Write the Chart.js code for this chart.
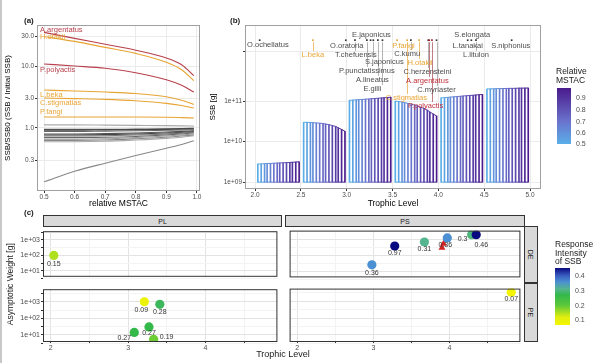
<!DOCTYPE html>
<html>
<head>
<meta charset="utf-8">
<script src="https://cdn.jsdelivr.net/npm/chart.js@4.4.1/dist/chart.umd.min.js"></script>
<style>
body{margin:0;background:#fff;font-family:"Liberation Sans",Arial,sans-serif;}
#wrap{position:relative;width:599px;height:363px;overflow:hidden;background:#fff}
canvas{position:absolute}
.t{position:absolute;color:#1a1a1a;white-space:nowrap;line-height:1}
.strip{position:absolute;background:#d9d9d9;border:1px solid #333;box-sizing:border-box;font-size:7px;color:#1a1a1a;display:flex;align-items:center;justify-content:center}
</style>
</head>
<body>
<div id="wrap">
  <div style="position:absolute;left:0;top:0;width:2px;height:363px;background:#c8c8c8"></div>
  <canvas id="ca" width="205" height="212" style="left:0;top:0"></canvas>
  <canvas id="cb" width="345" height="212" style="left:200px;top:0"></canvas>
  <canvas id="c1" width="282" height="56" style="left:0;top:226px"></canvas>
  <canvas id="c2" width="282" height="79" style="left:0;top:284px"></canvas>
  <canvas id="c3" width="240" height="56" style="left:285px;top:226px"></canvas>
  <canvas id="c4" width="240" height="79" style="left:285px;top:284px"></canvas>

  <div class="t" style="left:24px;top:17px;font-size:8px;font-weight:bold">(a)</div>
  <div class="t" style="left:230px;top:17px;font-size:8px;font-weight:bold">(b)</div>
  <div class="t" style="left:24px;top:209px;font-size:8px;font-weight:bold">(c)</div>

  <div class="strip" style="left:43px;top:215px;width:239px;height:12px">PL</div>
  <div class="strip" style="left:285px;top:215px;width:240px;height:12px">PS</div>
  <div class="strip" style="left:524px;top:226px;width:14px;height:57px"><span style="transform:rotate(90deg)">DE</span></div>
  <div class="strip" style="left:524px;top:283px;width:14px;height:59px"><span style="transform:rotate(90deg)">PE</span></div>

  <div class="t" style="left:-40px;top:280px;width:100px;text-align:center;font-size:8.5px;transform:rotate(-90deg)">Asymptotic Weight [g]</div>
  <div class="t" style="left:233px;top:350px;width:100px;text-align:center;font-size:9px">Trophic Level</div>

  <div class="t" style="left:556px;top:67px;font-size:8.5px;line-height:9px">Relative<br>MSTAC</div>
  <div id="barB" style="position:absolute;left:557px;top:88px;width:14px;height:56px"></div>
  <div class="t" style="left:576px;top:94px;font-size:7px;color:#4d4d4d">0.9</div>
  <div class="t" style="left:576px;top:106px;font-size:7px;color:#4d4d4d">0.8</div>
  <div class="t" style="left:576px;top:118px;font-size:7px;color:#4d4d4d">0.7</div>
  <div class="t" style="left:576px;top:129px;font-size:7px;color:#4d4d4d">0.6</div>
  <div class="t" style="left:576px;top:140px;font-size:7px;color:#4d4d4d">0.5</div>

  <div class="t" style="left:555px;top:240px;font-size:8.5px;line-height:8.5px">Response<br>Intensity<br>of SSB</div>
  <div id="barC" style="position:absolute;left:555px;top:268px;width:15px;height:57px"></div>
  <div class="t" style="left:575px;top:272px;font-size:7px;color:#4d4d4d">0.4</div>
  <div class="t" style="left:575px;top:287px;font-size:7px;color:#4d4d4d">0.3</div>
  <div class="t" style="left:575px;top:302px;font-size:7px;color:#4d4d4d">0.2</div>
  <div class="t" style="left:575px;top:316px;font-size:7px;color:#4d4d4d">0.1</div>
</div>
<script>
// ---------- panel (a) data ----------
const mstacA = [0.5, 0.6, 0.7, 0.8, 0.9, 0.95, 0.99];
const aArgentatus = [35, 28, 22.5, 18, 13.5, 10.5, 7.0];
const hOtakii = [30, 25, 20, 16, 11.5, 8.7, 5.8];
const pPolyactis = [10.8, 10.0, 9.2, 7.8, 6.0, 4.9, 3.8];
const lBeka = [4.1, 3.95, 3.8, 3.6, 3.2, 2.8, 2.4];
const cStigmatias = [3.05, 2.98, 2.9, 2.75, 2.5, 2.3, 2.1];
const pFangi = [1.5, 1.5, 1.5, 1.5, 1.49, 1.47, 1.45];
const gray1 = [1.12, 1.12, 1.11, 1.1, 1.09, 1.08, 1.07];
const gray2 = [0.95, 0.95, 0.95, 0.96, 0.97, 0.98, 0.99];
const gray3 = [0.92, 0.92, 0.93, 0.94, 0.95, 0.96, 0.97];
const gray4 = [0.88, 0.88, 0.89, 0.9, 0.92, 0.93, 0.94];
const gray5 = [0.80, 0.80, 0.81, 0.83, 0.86, 0.88, 0.9];
const gray6 = [0.77, 0.77, 0.78, 0.8, 0.83, 0.85, 0.88];
const gray7 = [0.74, 0.74, 0.75, 0.77, 0.8, 0.83, 0.86];
const gray8 = [0.70, 0.70, 0.71, 0.73, 0.77, 0.8, 0.83];
const gray9 = [0.66, 0.66, 0.67, 0.7, 0.74, 0.77, 0.8];
const gray10 = [0.63, 0.63, 0.64, 0.67, 0.71, 0.74, 0.77];
const gray11 = [0.60, 0.60, 0.61, 0.64, 0.68, 0.71, 0.75];
const grayLow = [0.135, 0.2, 0.27, 0.36, 0.47, 0.54, 0.62];
const ticksA = [0.3, 1, 3, 10, 30];

// ---------- panel (b) data ----------
const mstacB = [0.50, 0.54, 0.58, 0.61, 0.65, 0.69, 0.73, 0.76, 0.80, 0.84, 0.88, 0.91, 0.95, 0.99];
const groupStart = [2.03, 2.53, 3.03, 3.53, 4.03, 4.53];
const ssbG1 = [2.8e9, 2.82e9, 2.85e9, 2.88e9, 2.9e9, 2.93e9, 2.95e9, 2.98e9, 3.0e9, 3.03e9, 3.06e9, 3.1e9, 3.13e9, 3.17e9];
const ssbG2 = [3.0e10, 3.0e10, 2.98e10, 2.95e10, 2.9e10, 2.85e10, 2.8e10, 2.72e10, 2.62e10, 2.5e10, 2.37e10, 2.2e10, 2.0e10, 1.8e10];
const ssbG3 = [1.05e11, 1.06e11, 1.08e11, 1.09e11, 1.1e11, 1.12e11, 1.13e11, 1.15e11, 1.16e11, 1.18e11, 1.2e11, 1.21e11, 1.23e11, 1.25e11];
const ssbG4 = [1.0e11, 0.98e11, 0.95e11, 0.92e11, 0.88e11, 0.84e11, 0.8e11, 0.76e11, 0.71e11, 0.66e11, 0.6e11, 0.54e11, 0.48e11, 0.43e11];
const ssbG5 = [1.2e11, 1.22e11, 1.24e11, 1.26e11, 1.28e11, 1.3e11, 1.32e11, 1.34e11, 1.36e11, 1.38e11, 1.4e11, 1.42e11, 1.44e11, 1.46e11];
const ssbG6 = [2.0e11, 2.01e11, 2.02e11, 2.03e11, 2.04e11, 2.05e11, 2.06e11, 2.07e11, 2.07e11, 2.08e11, 2.09e11, 2.1e11, 2.1e11, 2.11e11];
const ticksB = [1e9, 1e10, 1e11, 1.7e12];
const tickLabelsB = ['1e+09', '1e+10', '1e+11', ''];
const species = ['O.ochellatus', 'L.beka', 'O.oratoria', 'T.chefuensis', 'P.punctatissimus', 'E.japonicus', 'S.japonicus', 'A.lineatus', 'E.gilli', 'P.fangi', 'C.stigmatias', 'C.kumu', 'H.otakii', 'C.herzensteini', 'A.argentatus', 'P.polyactis', 'C.myriaster', 'L.tanakai', 'S.elongata', 'L.litulon', 'S.niphonius'];
const speciesTL = [2.05, 2.63, 2.99, 3.09, 3.22, 3.26, 3.29, 3.34, 3.39, 3.55, 3.66, 3.70, 3.79, 3.89, 3.90, 3.93, 3.98, 4.32, 4.36, 4.41, 4.80];
const speciesGroup = ['n', 'o', 'n', 'n', 'n', 'n', 'n', 'n', 'n', 'o', 'o', 'n', 'o', 'n', 'r', 'r', 'n', 'n', 'n', 'n', 'n'];

// ---------- panel (c) data ----------
const plDeTL = [2.04], plDeW = [100], plDeRI = [0.15];
const plPeTL = [3.21, 3.41, 3.27, 3.08, 3.33], plPeW = [1000, 700, 30, 14, 5.4], plPeRI = [0.09, 0.28, 0.27, 0.27, 0.19];
const psDeTL = [2.98, 3.28, 3.67, 3.97, 4.29, 4.35], psDeW = [26, 390, 700, 1260, 2000, 2000], psDeRI = [0.36, 0.97, 0.31, 0.36, 0.3, 0.46];
const psDeTriTL = [3.92, 3.90], psDeTriW = [550, 310];
const psPeTL = [4.81], psPeW = [3500], psPeRI = [0.07];
const ticksCY = [10, 100, 1000];
const ticksCX = [2, 3, 4];

// ---------- colours ----------
const RED = '#b8404c', ORANGE = '#e8a535';
const mstacStops = [[0.5, [90, 174, 232]], [0.7, [106, 114, 204]], [0.99, [74, 26, 140]]];
const riStops = [[0.066, [245, 245, 0]], [0.12, [224, 238, 16]], [0.2, [92, 200, 58]], [0.27, [51, 184, 74]], [0.31, [85, 181, 142]], [0.36, [74, 144, 210]], [0.40, [58, 95, 192]], [0.454, [10, 10, 128]]];
function rgb(c){ return 'rgb(' + c.join(',') + ')'; }
function mix(stops, v){
  if (v <= stops[0][0]) return rgb(stops[0][1]);
  for (let i = 1; i < stops.length; i++) {
    if (v <= stops[i][0]) {
      const a = stops[i-1], b = stops[i];
      const t = (v - a[0]) / (b[0] - a[0]);
      return rgb(a[1].map((c, k) => Math.round(c + (b[1][k] - c) * t)));
    }
  }
  return rgb(stops[stops.length-1][1]);
}
function gradCss(stops, lo, hi){
  return 'linear-gradient(to top,' + stops.map(s => rgb(s[1]) + ' ' + ((s[0]-lo)/(hi-lo)*100).toFixed(1) + '%').join(',') + ')';
}
document.getElementById('barB').style.background = gradCss(mstacStops, 0.5, 0.99);
document.getElementById('barC').style.background = gradCss(riStops, 0.066, 0.454);

Chart.defaults.font.family = '"Liberation Sans", Arial, sans-serif';
Chart.defaults.animation = false;
Chart.defaults.responsive = false;
Chart.defaults.devicePixelRatio = 1;
Chart.defaults.plugins.legend.display = false;
Chart.defaults.plugins.tooltip.enabled = false;

const frame = {
  id: 'frame',
  afterDraw(c, args, o) {
    const a = c.chartArea, x = c.ctx;
    x.save();
    x.strokeStyle = o.color || '#999';
    x.lineWidth = 1;
    x.strokeRect(a.left + 0.5, a.top + 0.5, a.right - a.left - 1, a.bottom - a.top - 1);
    x.restore();
  }
};
function fixed(list){ return s => { s.ticks = list.map(v => ({value: v})); }; }

// ---------- (a) ----------
const linesA = [
  [gray11, '#aaaaaa'], [gray10, '#888888'], [gray9, '#999999'], [gray8, '#666666'], [gray7, '#777777'],
  [gray6, '#444444'], [gray5, '#555555'], [gray4, '#666666'], [gray3, '#444444'], [gray2, '#555555'],
  [gray1, '#aaaaaa'], [grayLow, '#888888'],
  [pFangi, ORANGE], [cStigmatias, ORANGE], [lBeka, ORANGE], [pPolyactis, RED], [hOtakii, ORANGE], [aArgentatus, RED]
];
const labelsA = [
  ['A.argentatus', 39, RED], ['H.otakii', 29, ORANGE], ['P.polyactis', 8.6, RED],
  ['L.beka', 3.4, ORANGE], ['C.stigmatias', 2.5, ORANGE], ['P.fangi', 1.8, ORANGE]
];
const labelPluginA = {
  id: 'labA',
  afterDatasetsDraw(c) {
    const x = c.ctx, sx = c.scales.x, sy = c.scales.y;
    x.save();
    x.font = '7.5px "Liberation Sans", Arial, sans-serif';
    x.textBaseline = 'middle';
    labelsA.forEach(l => {
      x.fillStyle = l[2];
      x.fillText(l[0], sx.getPixelForValue(0.5) - 4, sy.getPixelForValue(l[1]));
    });
    x.restore();
  }
};
new Chart(document.getElementById('ca'), {
  type: 'line',
  data: {
    datasets: linesA.map(l => ({
      data: mstacA.map((m, i) => ({x: m, y: l[0][i]})),
      borderColor: l[1], borderWidth: 1.1, pointRadius: 0, cubicInterpolationMode: 'monotone'
    }))
  },
  options: {
    layout: {padding: {top: 25, right: 5, left: 0, bottom: 0}},
    plugins: {frame: {color: '#a0a0a0'}},
    scales: {
      x: {
        type: 'linear', min: 0.477, max: 1.01, afterBuildTicks: fixed([0.5, 0.6, 0.7, 0.8, 0.9, 1.0]),
        ticks: {callback: v => v.toFixed(1), font: {size: 6.5}, color: '#4d4d4d', padding: 0, autoSkip: false, maxRotation: 0},
        grid: {color: '#ebebeb', tickLength: 2, tickColor: '#333'}, border: {display: false},
        title: {display: true, text: 'relative MSTAC', font: {size: 8.5}, color: '#000', padding: {top: 0, bottom: 3}},
        afterFit: s => { s.height = 21; }
      },
      y: {
        type: 'logarithmic', min: 0.096, max: 46, afterBuildTicks: fixed(ticksA),
        ticks: {callback: v => Number(v).toFixed(1), font: {size: 6.5}, color: '#4d4d4d', padding: 1, autoSkip: false},
        grid: {color: '#ebebeb', tickLength: 2, tickColor: '#333'}, border: {display: false},
        title: {display: true, text: 'SSB/SSB0 (SSB / Initial SSB)', font: {size: 8}, color: '#000', padding: 3},
        afterFit: s => { s.width = 37; }
      }
    }
  },
  plugins: [frame, labelPluginA]
});

// ---------- (b) ----------
const groups = [ssbG1, ssbG2, ssbG3, ssbG4, ssbG5, ssbG6];
const barX = (g, i) => groupStart[g] + (mstacB[i] - 0.5) * 0.92;
const barsB = [], barColB = [];
groups.forEach((vals, g) => vals.forEach((v, i) => { barsB.push({x: barX(g, i), y: [1e9, v]}); barColB.push(mix(mstacStops, mstacB[i])); }));
const dsB = [{type: 'bar', data: barsB, backgroundColor: barColB, borderWidth: 0, barThickness: 1, order: 3}];
groups.forEach((vals, g) => {
  const seg = {borderColor: ctx => mix(mstacStops, mstacB[ctx.p0DataIndex])};
  dsB.push({type: 'line', data: vals.map((v, i) => ({x: barX(g, i), y: v})), borderWidth: 1, pointRadius: 0, segment: seg, order: 2});
  dsB.push({type: 'line', data: vals.map((v, i) => ({x: barX(g, i), y: 1e9})), borderWidth: 1, pointRadius: 0, segment: seg, order: 2});
});
const DOT_Y = 3.2e12;
const grpCol = {n: '#333333', o: ORANGE, r: '#b02030'};
const txtCol = {n: '#4d4d4d', o: ORANGE, r: '#c0303c'};
dsB.push({type: 'scatter', data: speciesTL.map(t => ({x: t, y: DOT_Y})), pointStyle: 'rect', pointRadius: 1.2, borderWidth: 0,
  backgroundColor: speciesGroup.map(g => grpCol[g]), order: 1});
// label anchors (x in trophic level, y in pixels from top of canvas)
const labelPosB = [
  [2.14, 45], [2.63, 55], [3.00, 46], [3.10, 55], [3.22, 71], [3.27, 35], [3.41, 62], [3.28, 80], [3.28, 89],
  [3.62, 46], [3.65, 98], [3.66, 54], [3.80, 63], [3.88, 72], [3.88, 81], [3.86, 106], [3.98, 90],
  [4.32, 46], [4.37, 35], [4.41, 55], [4.79, 46]
];
const labelPluginB = {
  id: 'labB',
  afterDatasetsDraw(c) {
    const x = c.ctx, sx = c.scales.x, sy = c.scales.y;
    x.save();
    x.font = '7.5px "Liberation Sans", Arial, sans-serif';
    x.textAlign = 'center';
    x.textBaseline = 'middle';
    const dy = sy.getPixelForValue(DOT_Y);
    species.forEach((s, i) => {
      const px = sx.getPixelForValue(speciesTL[i]);
      const ly = labelPosB[i][1];
      if (ly - dy > 8) {
        x.strokeStyle = speciesGroup[i] === 'n' ? 'rgba(90,90,90,0.45)' : (speciesGroup[i] === 'o' ? 'rgba(232,165,53,0.7)' : 'rgba(150,40,50,0.6)');
        x.lineWidth = 1;
        x.beginPath(); x.moveTo(Math.round(px) + 0.5, dy + 2); x.lineTo(Math.round(px) + 0.5, ly - 4); x.stroke();
      }
    });
    species.forEach((s, i) => {
      x.fillStyle = txtCol[speciesGroup[i]];
      x.fillText(s, sx.getPixelForValue(labelPosB[i][0]), labelPosB[i][1]);
    });
    x.restore();
  }
};
new Chart(document.getElementById('cb'), {
  type: 'bar',
  data: {datasets: dsB},
  options: {
    layout: {padding: {top: 25, right: 3, left: 0, bottom: 0}},
    plugins: {frame: {color: '#a0a0a0'}},
    scales: {
      x: {
        type: 'linear', min: 1.89, max: 5.12, offset: false, afterBuildTicks: fixed([2, 2.5, 3, 3.5, 4, 4.5, 5]),
        ticks: {callback: v => Number(v).toFixed(1), font: {size: 6.5}, color: '#4d4d4d', padding: 0, autoSkip: false, maxRotation: 0},
        grid: {color: '#ebebeb', tickLength: 2, tickColor: '#333', offset: false}, border: {display: false},
        title: {display: true, text: 'Trophic Level', font: {size: 8.5}, color: '#000', padding: {top: 0, bottom: 3}},
        afterFit: s => { s.height = 23; }
      },
      y: {
        type: 'logarithmic', min: 6.76e8, max: 7.6e12, afterBuildTicks: fixed(ticksB),
        ticks: {callback: (v, i) => tickLabelsB[i], font: {size: 6.5}, color: '#4d4d4d', padding: 1, autoSkip: false},
        grid: {color: '#ebebeb', tickLength: 2, tickColor: '#333'}, border: {display: false},
        title: {display: true, text: 'SSB [g]', font: {size: 8}, color: '#000', padding: 8},
        afterFit: s => { s.width = 45; }
      }
    }
  },
  plugins: [frame, labelPluginB]
});

// ---------- (c) ----------
const valLabel = {
  id: 'vlab',
  afterDatasetsDraw(c, args, o) {
    const x = c.ctx, meta = c.getDatasetMeta(0);
    x.save();
    x.font = '7px "Liberation Sans", Arial, sans-serif';
    x.fillStyle = '#333';
    x.textAlign = 'center';
    x.textBaseline = 'middle';
    o.texts.forEach((t, i) => {
      const p = meta.data[i];
      x.fillText(String(t), p.x + o.off[i][0], p.y + o.off[i][1]);
    });
    x.restore();
  }
};
function facet(id, tl, w, ri, off, yMin, yMax, showY, showX, extra) {
  const ds = [{type: 'scatter', data: tl.map((t, i) => ({x: t, y: w[i]})), pointRadius: 4.6, borderWidth: 0,
    backgroundColor: ri.map(v => mix(riStops, v))}];
  if (extra) ds.push(extra);
  const minorY = [Math.pow(10, 0.5), Math.pow(10, 1.5), Math.pow(10, 2.5), Math.pow(10, 3.5)];
  new Chart(document.getElementById(id), {
    type: 'scatter',
    data: {datasets: ds},
    options: {
      layout: {padding: 0},
      plugins: {frame: {color: '#333'}, vlab: {texts: ri, off: off}},
      scales: {
        x: {
          type: 'linear', min: 1.9, max: 4.93, afterBuildTicks: fixed([2, 2.5, 3, 3.5, 4, 4.5]),
          ticks: {display: showX, callback: v => ticksCX.includes(v) ? String(v) : '', font: {size: 7}, color: '#4d4d4d', padding: 0, autoSkip: false, maxRotation: 0},
          grid: {color: ctx => ctx.tick && ticksCX.includes(ctx.tick.value) ? '#e3e3e3' : '#f3f3f3', drawTicks: showX, tickLength: 2, tickColor: '#333'},
          border: {display: false},
          afterFit: s => { s.height = showX ? 21 : 0; }
        },
        y: {
          type: 'logarithmic', min: yMin, max: yMax, afterBuildTicks: fixed(ticksCY.concat(minorY)),
          ticks: {display: showY, callback: v => ticksCY.includes(v) ? '1e+0' + Math.round(Math.log10(v)) : '', font: {size: 7}, color: '#4d4d4d', padding: 1, autoSkip: false},
          grid: {color: ctx => ctx.tick && ticksCY.includes(ctx.tick.value) ? '#e3e3e3' : '#f3f3f3', drawTicks: showY, tickLength: 2, tickColor: '#333'},
          border: {display: false},
          afterFit: s => { s.width = showY ? 43 : 0; }
        }
      }
    },
    plugins: [frame, valLabel]
  });
}
facet('c1', plDeTL, plDeW, plDeRI, [[0, 9]], 4.2, 3630, true, false);
facet('c2', plPeTL, plPeW, plPeRI, [[-3, 8], [0, 8], [0, 6], [-10, 6], [13, -2]], 3.7, 5750, true, true);
facet('c3', psDeTL, psDeW, psDeRI, [[0, 8], [0, 7], [0, 7], [-2, 7], [-9, 4], [5, 10]], 4.2, 3630, false, false,
  {type: 'scatter', data: psDeTriTL.map((t, i) => ({x: t, y: psDeTriW[i]})), pointStyle: 'triangle', pointRadius: 4, borderWidth: 0, backgroundColor: '#d42020'});
facet('c4', psPeTL, psPeW, psPeRI, [[0, 7]], 3.7, 5750, false, true);
</script>
</body>
</html>
